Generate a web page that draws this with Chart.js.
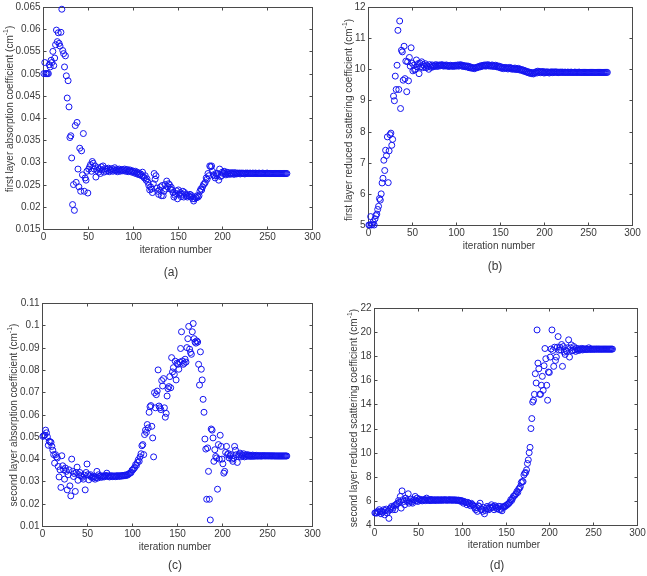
<!DOCTYPE html>
<html>
<head>
<meta charset="utf-8">
<script src="https://cdn.jsdelivr.net/npm/chart.js@4.4.1/dist/chart.umd.min.js"></script>
<style>
  html, body { margin: 0; padding: 0; background: #fff; }
  #page { position: relative; width: 647px; height: 576px; overflow: hidden; }
  #page canvas { position: absolute; left: 0; top: 0; }
</style>
</head>
<body>
<div id="page">
  <canvas id="chartA" width="647" height="576"></canvas>
  <canvas id="chartB" width="647" height="576"></canvas>
  <canvas id="chartC" width="647" height="576"></canvas>
  <canvas id="chartD" width="647" height="576"></canvas>
</div>
<script>
// x ticks shared by the four panels (iteration number)
const xTicks = [0, 50, 100, 150, 200, 250, 300];

// (a) first layer absorption coefficient, one value per iteration
const firstAbsorption = [
  0.0500, 0.0525, 0.0500, 0.0500, 0.0500, 0.0500, 0.0520, 0.0515, 0.0530, 0.0525,
  0.0550, 0.0518, 0.0535, 0.0565, 0.0598, 0.0572, 0.0592, 0.0568, 0.0562, 0.0593,
  0.0645, 0.0552, 0.0545, 0.0515, 0.0540, 0.0495, 0.0445, 0.0484, 0.0425, 0.0356,
  0.0360, 0.0310, 0.0205, 0.0250, 0.0192, 0.0383, 0.0255, 0.0390, 0.0285, 0.0245,
  0.0332, 0.0235, 0.0326, 0.0272, 0.0365, 0.0235, 0.0265, 0.0260, 0.0280, 0.0231,
  0.0285, 0.0290, 0.0295, 0.0280, 0.0302, 0.0298, 0.0285, 0.0292, 0.0267, 0.0282,
  0.0288, 0.0278, 0.0285, 0.0275, 0.0290, 0.0283, 0.0292, 0.0278, 0.0286, 0.0280,
  0.0285, 0.0281, 0.0287, 0.0279, 0.0284, 0.0282, 0.0286, 0.0280, 0.0283, 0.0288,
  0.0281, 0.0284, 0.0279, 0.0283, 0.0285, 0.0280, 0.0282, 0.0284, 0.0281, 0.0283,
  0.0285, 0.0280, 0.0282, 0.0284, 0.0279, 0.0281, 0.0283, 0.0280, 0.0278, 0.0281,
  0.0279, 0.0276, 0.0280, 0.0275, 0.0278, 0.0273, 0.0276, 0.0272, 0.0274, 0.0270,
  0.0278, 0.0268, 0.0265, 0.0270, 0.0260, 0.0263, 0.0255, 0.0248, 0.0238, 0.0245,
  0.0240, 0.0232, 0.0252, 0.0275, 0.0262, 0.0270, 0.0242, 0.0235, 0.0228, 0.0238,
  0.0245, 0.0225, 0.0248, 0.0225, 0.0235, 0.0250, 0.0240, 0.0258, 0.0245, 0.0252,
  0.0250, 0.0240, 0.0244, 0.0238, 0.0232, 0.0222, 0.0226, 0.0230, 0.0236, 0.0218,
  0.0238, 0.0228, 0.0232, 0.0223, 0.0228, 0.0235, 0.0222, 0.0232, 0.0228, 0.0225,
  0.0222, 0.0226, 0.0224, 0.0228, 0.0222, 0.0225, 0.0218, 0.0213, 0.0218, 0.0222,
  0.0220, 0.0225, 0.0222, 0.0225, 0.0235, 0.0240, 0.0238, 0.0245, 0.0250, 0.0252,
  0.0255, 0.0265, 0.0262, 0.0275, 0.0270, 0.0292, 0.0290, 0.0292, 0.0280, 0.0272,
  0.0270, 0.0265, 0.0275, 0.0270, 0.0275, 0.0260, 0.0285, 0.0268, 0.0270, 0.0278,
  0.0275, 0.0280, 0.0275, 0.0272, 0.0278, 0.0274, 0.0277, 0.0273, 0.0276, 0.0274,
  0.0277, 0.0275, 0.0273, 0.0277, 0.0275, 0.0274, 0.0276, 0.0275, 0.0276, 0.0274,
  0.0276, 0.0275, 0.0276, 0.0275, 0.0274, 0.0276, 0.0275, 0.0276, 0.0275, 0.0275,
  0.0276, 0.0275, 0.0275, 0.0276, 0.0275, 0.0275, 0.0276, 0.0275, 0.0275, 0.0275,
  0.0276, 0.0275, 0.0275, 0.0275, 0.0276, 0.0275, 0.0275, 0.0275, 0.0275, 0.0276,
  0.0275, 0.0275, 0.0275, 0.0275, 0.0275, 0.0275, 0.0275, 0.0275, 0.0275, 0.0275,
  0.0275, 0.0275, 0.0275, 0.0275, 0.0275, 0.0275, 0.0275, 0.0275, 0.0275, 0.0275,
  0.0275, 0.0275
];
const firstAbsorptionTicks = [0.015, 0.02, 0.025, 0.03, 0.035, 0.04, 0.045, 0.05, 0.055, 0.06, 0.065];

// (b) first layer reduced scattering coefficient
const firstScattering = [
  5.00, 5.00, 5.27, 5.00, 5.02, 5.10, 5.00, 5.20, 5.30, 5.35,
  5.50, 5.60, 5.85, 5.80, 6.00, 6.35, 6.50, 7.08, 6.75, 7.40,
  7.23, 7.83, 6.36, 7.38, 7.90, 7.95, 7.56, 7.75, 9.14, 8.99,
  9.78, 9.35, 10.13, 11.25, 9.35, 11.55, 8.74, 10.61, 10.56, 9.65,
  10.74, 9.70, 10.26, 9.28, 10.24, 9.63, 10.38, 10.10, 10.69, 10.20,
  9.95, 10.13, 9.98, 10.00, 10.30, 10.08, 10.18, 9.86, 10.20, 10.08,
  10.24, 10.05, 10.15, 10.10, 10.18, 10.05, 10.12, 10.08, 10.00, 10.15,
  10.10, 10.06, 10.14, 10.08, 10.12, 10.10, 10.15, 10.09, 10.13, 10.10,
  10.14, 10.11, 10.13, 10.15, 10.12, 10.10, 10.13, 10.11, 10.14, 10.10,
  10.12, 10.09, 10.11, 10.13, 10.10, 10.12, 10.09, 10.11, 10.13, 10.10,
  10.12, 10.14, 10.10, 10.12, 10.15, 10.11, 10.13, 10.09, 10.12, 10.10,
  10.08, 10.11, 10.07, 10.10, 10.05, 10.08, 10.04, 10.06, 10.03, 10.05,
  10.02, 10.04, 10.06, 10.05, 10.08, 10.07, 10.10, 10.08, 10.12, 10.10,
  10.13, 10.11, 10.14, 10.10, 10.12, 10.15, 10.11, 10.13, 10.10, 10.12,
  10.14, 10.09, 10.12, 10.10, 10.13, 10.08, 10.11, 10.07, 10.10, 10.05,
  10.08, 10.03, 10.06, 10.02, 10.05, 10.06, 10.03, 10.05, 10.01, 10.04,
  10.06, 10.02, 10.04, 10.00, 10.03, 10.01, 10.04, 9.99, 10.02, 10.00,
  10.03, 9.98, 10.00, 9.97, 9.99, 9.95, 9.97, 9.93, 9.95, 9.91,
  9.93, 9.89, 9.91, 9.87, 9.90, 9.86, 9.89, 9.85, 9.88, 9.90,
  9.92, 9.88, 9.94, 9.90, 9.93, 9.89, 9.92, 9.90, 9.93, 9.88,
  9.91, 9.89, 9.92, 9.90, 9.91, 9.88, 9.91, 9.90, 9.92, 9.89,
  9.91, 9.90, 9.92, 9.90, 9.91, 9.89, 9.91, 9.90, 9.91, 9.90,
  9.91, 9.90, 9.90, 9.91, 9.90, 9.90, 9.91, 9.90, 9.90, 9.90,
  9.91, 9.90, 9.90, 9.90, 9.91, 9.90, 9.90, 9.90, 9.90, 9.91,
  9.90, 9.90, 9.90, 9.90, 9.90, 9.90, 9.90, 9.90, 9.90, 9.90,
  9.90, 9.90, 9.90, 9.90, 9.90, 9.90, 9.90, 9.90, 9.90, 9.90,
  9.90, 9.90, 9.90, 9.90, 9.90, 9.90, 9.90, 9.90, 9.90, 9.90,
  9.90, 9.90
];
const firstScatteringTicks = [5, 6, 7, 8, 9, 10, 11, 12];

// (c) second layer absorption coefficient
const secondAbsorption = [
  0.0502, 0.0505, 0.0507, 0.0530, 0.0518, 0.0500, 0.0462, 0.0480, 0.0478, 0.0475,
  0.0457, 0.0440, 0.0420, 0.0382, 0.0420, 0.0410, 0.0405, 0.0367, 0.0320, 0.0352,
  0.0273, 0.0415, 0.0370, 0.0352, 0.0310, 0.0360, 0.0345, 0.0262, 0.0330, 0.0352,
  0.0280, 0.0235, 0.0400, 0.0345, 0.0322, 0.0335, 0.0255, 0.0340, 0.0364, 0.0305,
  0.0330, 0.0340, 0.0325, 0.0322, 0.0318, 0.0310, 0.0328, 0.0262, 0.0340, 0.0378,
  0.0330, 0.0307, 0.0325, 0.0330, 0.0318, 0.0320, 0.0315, 0.0322, 0.0310, 0.0318,
  0.0345, 0.0315, 0.0330, 0.0322, 0.0325, 0.0318, 0.0322, 0.0325, 0.0320, 0.0323,
  0.0327, 0.0337, 0.0322, 0.0325, 0.0320, 0.0323, 0.0326, 0.0321, 0.0324, 0.0322,
  0.0325, 0.0321, 0.0324, 0.0326, 0.0322, 0.0325, 0.0323, 0.0326, 0.0324, 0.0327,
  0.0325, 0.0328, 0.0326, 0.0330, 0.0328, 0.0332, 0.0335, 0.0338, 0.0340, 0.0350,
  0.0352, 0.0358, 0.0362, 0.0375, 0.0372, 0.0385, 0.0397, 0.0390, 0.0410, 0.0424,
  0.0460, 0.0465, 0.0420, 0.0510, 0.0530, 0.0520, 0.0555, 0.0540, 0.0610, 0.0635,
  0.0640, 0.0547, 0.0495, 0.0410, 0.0698, 0.0630, 0.0689, 0.0705, 0.0800, 0.0638,
  0.0630, 0.0622, 0.0752, 0.0728, 0.0761, 0.0630, 0.0588, 0.0605, 0.0683, 0.0716,
  0.0725, 0.0770, 0.0720, 0.0855, 0.0791, 0.0810, 0.0780, 0.0839, 0.0755, 0.0830,
  0.0825, 0.0803, 0.0835, 0.0896, 0.0971, 0.0840, 0.0825, 0.0830, 0.0848, 0.0835,
  0.0900, 0.0940, 0.0995, 0.0893, 0.0878, 0.0870, 0.0971, 0.1008, 0.0940, 0.0925,
  0.0920, 0.0930, 0.0925, 0.0825, 0.0732, 0.0881, 0.0803, 0.0755, 0.0668, 0.0610,
  0.0490, 0.0445, 0.0220, 0.0450, 0.0345, 0.0220, 0.0127, 0.0535, 0.0530, 0.0495,
  0.0390, 0.0442, 0.0412, 0.0405, 0.0265, 0.0465, 0.0400, 0.0507, 0.0457, 0.0400,
  0.0379, 0.0337, 0.0345, 0.0430, 0.0457, 0.0420, 0.0425, 0.0405, 0.0415, 0.0420,
  0.0400, 0.0390, 0.0405, 0.0457, 0.0440, 0.0420, 0.0385, 0.0412, 0.0420, 0.0427,
  0.0410, 0.0420, 0.0415, 0.0424, 0.0410, 0.0418, 0.0412, 0.0420, 0.0414, 0.0418,
  0.0412, 0.0417, 0.0413, 0.0418, 0.0412, 0.0416, 0.0414, 0.0417, 0.0413, 0.0415,
  0.0414, 0.0416, 0.0413, 0.0415, 0.0414, 0.0416, 0.0414, 0.0415, 0.0414, 0.0415,
  0.0414, 0.0415, 0.0414, 0.0415, 0.0414, 0.0414, 0.0415, 0.0414, 0.0414, 0.0414,
  0.0414, 0.0414, 0.0414, 0.0414, 0.0414, 0.0414, 0.0414, 0.0414, 0.0414, 0.0414,
  0.0414, 0.0414
];
const secondAbsorptionTicks = [0.01, 0.02, 0.03, 0.04, 0.05, 0.06, 0.07, 0.08, 0.09, 0.1, 0.11];

// (d) second layer reduced scattering coefficient
const secondScattering = [
  5.00, 5.02, 4.98, 5.13, 5.05, 5.27, 5.10, 4.93, 5.13, 5.05,
  5.27, 4.85, 5.20, 5.32, 5.00, 5.15, 4.55, 5.27, 5.40, 5.54,
  5.27, 5.45, 5.60, 5.27, 5.68, 5.75, 5.80, 6.03, 5.90, 6.37,
  5.40, 6.83, 6.10, 5.95, 5.68, 6.23, 6.05, 5.95, 6.59, 5.81,
  6.00, 6.15, 5.90, 5.81, 6.05, 6.10, 6.37, 6.00, 6.23, 5.95,
  6.10, 6.15, 6.03, 6.08, 6.00, 6.10, 6.05, 6.12, 6.02, 6.23,
  6.08, 6.05, 6.10, 6.02, 6.12, 6.06, 6.04, 6.10, 6.05, 6.08,
  6.03, 6.10, 6.06, 6.08, 6.04, 6.10, 6.07, 6.05, 6.09, 6.06,
  6.10, 6.07, 6.05, 6.09, 6.06, 6.08, 6.10, 6.05, 6.08, 6.06,
  6.09, 6.05, 6.08, 6.06, 6.04, 6.07, 6.03, 6.05, 5.95, 6.02,
  5.98, 5.81, 5.95, 5.90, 5.85, 5.68, 5.88, 5.80, 5.75, 5.60,
  5.80, 5.70, 5.65, 5.55, 5.40, 5.27, 5.45, 5.13, 5.60, 5.54,
  5.81, 5.30, 5.27, 5.13, 5.45, 4.93, 5.20, 5.40, 5.54, 5.35,
  5.27, 5.50, 5.40, 5.68, 5.45, 5.54, 5.27, 5.60, 5.49, 5.35,
  5.40, 5.55, 5.27, 5.54, 5.30, 5.18, 5.45, 5.54, 5.50, 5.60,
  5.62, 5.68, 5.75, 5.81, 5.90, 6.10, 6.03, 6.20, 6.37, 6.42,
  6.50, 6.59, 6.78, 6.70, 6.97, 7.05, 7.19, 7.52, 7.60, 7.60,
  8.15, 8.30, 8.35, 8.57, 9.10, 9.40, 10.00, 10.44, 12.00, 12.83,
  14.20, 14.35, 14.84, 16.55, 15.78, 20.18, 17.43, 16.96, 14.84, 14.84,
  15.59, 16.33, 15.17, 17.21, 18.64, 17.79, 15.59, 14.35, 16.69, 16.65,
  17.93, 18.60, 20.18, 18.48, 17.16, 18.75, 17.65, 17.93, 18.75, 19.63,
  18.50, 18.75, 18.53, 18.97, 17.16, 18.80, 18.34, 18.15, 18.48, 18.40,
  18.70, 19.36, 17.93, 18.70, 18.94, 18.45, 18.48, 18.80, 18.53, 18.40,
  18.65, 18.50, 18.62, 18.48, 18.60, 18.55, 18.65, 18.52, 18.60, 18.56,
  18.62, 18.55, 18.60, 18.57, 18.70, 18.56, 18.60, 18.58, 18.60, 18.57,
  18.60, 18.58, 18.59, 18.60, 18.58, 18.59, 18.60, 18.58, 18.59, 18.59,
  18.59, 18.59, 18.59, 18.59, 18.59, 18.59, 18.59, 18.59, 18.59, 18.59,
  18.59, 18.59
];
const secondScatteringTicks = [4, 6, 8, 10, 12, 14, 16, 18, 20, 22];

const TEXT_COLOR = '#3a3a3a';
const AXIS_COLOR = '#4a4a4a';
const MARKER_COLOR = '#1414f0';
const FONT = '10px "Liberation Sans", Arial, sans-serif';
const SUP_FONT = '7px "Liberation Sans", Arial, sans-serif';
const LABEL_FONT = '12px "Liberation Sans", Arial, sans-serif';
const TICK_LEN = 3;

function fmt(v) {
  return String(parseFloat(v.toFixed(4)));
}

// y axis title with a raised "-1" for cm^-1
function drawYTitle(ctx, text, cx, cy) {
  ctx.save();
  ctx.translate(cx, cy);
  ctx.rotate(-Math.PI / 2);
  ctx.textAlign = 'left';
  ctx.textBaseline = 'middle';
  ctx.font = FONT;
  const main = text + ' (cm';
  const w1 = ctx.measureText(main).width;
  const w3 = ctx.measureText(')').width;
  ctx.font = SUP_FONT;
  const w2 = ctx.measureText('-1').width;
  let x = -(w1 + w2 + w3) / 2;
  ctx.font = FONT;
  ctx.fillText(main, x, 0);
  x += w1;
  ctx.font = SUP_FONT;
  ctx.fillText('-1', x, -4);
  x += w2;
  ctx.font = FONT;
  ctx.fillText(')', x, 0);
  ctx.restore();
}

// matlab-like box axes: ticks pointing in on all four sides
const boxAxes = {
  id: 'boxAxes',
  beforeDatasetsDraw(chart, args, opts) {
    const { ctx, chartArea: ca, scales: { x, y } } = chart;
    const l = Math.round(ca.left) + 0.5, r = Math.round(ca.right) + 0.5;
    const t = Math.round(ca.top) + 0.5, b = Math.round(ca.bottom) + 0.5;
    ctx.save();
    ctx.strokeStyle = AXIS_COLOR;
    ctx.lineWidth = 1;
    ctx.strokeRect(l, t, r - l, b - t);
    ctx.fillStyle = TEXT_COLOR;
    ctx.font = FONT;

    ctx.textAlign = 'center';
    ctx.textBaseline = 'middle';
    x.ticks.forEach(tk => {
      const px = Math.round(x.getPixelForValue(tk.value)) + 0.5;
      ctx.beginPath();
      ctx.moveTo(px, b); ctx.lineTo(px, b - TICK_LEN);
      ctx.moveTo(px, t); ctx.lineTo(px, t + TICK_LEN);
      ctx.stroke();
      ctx.fillText(fmt(tk.value), px, b + 8);
    });

    ctx.textAlign = 'right';
    y.ticks.forEach(tk => {
      const py = Math.round(y.getPixelForValue(tk.value)) + 0.5;
      ctx.beginPath();
      ctx.moveTo(l, py); ctx.lineTo(l + TICK_LEN, py);
      ctx.moveTo(r, py); ctx.lineTo(r - TICK_LEN, py);
      ctx.stroke();
      ctx.fillText(fmt(tk.value), l - 3, py);
    });

    ctx.textAlign = 'center';
    ctx.fillText('iteration number', opts.xTitleX, opts.xTitleY);
    ctx.font = LABEL_FONT;
    ctx.fillText(opts.label, opts.labelX, opts.labelY);
    drawYTitle(ctx, opts.yTitle, opts.yTitleX, opts.yTitleY);
    ctx.restore();
  }
};

function makePanel(canvasId, values, yTicks, pad, deco) {
  const points = values.map((v, i) => ({ x: i + 1, y: v }));
  return new Chart(document.getElementById(canvasId), {
    type: 'scatter',
    data: {
      datasets: [{
        data: points,
        pointStyle: 'circle',
        pointRadius: 3,
        pointBorderWidth: 1,
        pointBorderColor: MARKER_COLOR,
        pointBackgroundColor: 'rgba(0,0,0,0)',
        showLine: false,
        clip: false
      }]
    },
    options: {
      responsive: false,
      animation: false,
      events: [],
      layout: { padding: pad },
      plugins: {
        legend: { display: false },
        tooltip: { enabled: false },
        boxAxes: deco
      },
      scales: {
        x: {
          type: 'linear', display: false, min: 0, max: 300,
          afterBuildTicks: s => { s.ticks = xTicks.map(v => ({ value: v })); }
        },
        y: {
          type: 'linear', display: false, min: yTicks[0], max: yTicks[yTicks.length - 1],
          afterBuildTicks: s => { s.ticks = yTicks.map(v => ({ value: v })); }
        }
      }
    },
    plugins: [boxAxes]
  });
}

makePanel('chartA', firstAbsorption, firstAbsorptionTicks,
  { left: 43, top: 7, right: 335, bottom: 347 },
  { yTitle: 'first layer absorption coefficient', yTitleX: 10, yTitleY: 109,
    xTitleX: 176, xTitleY: 250, label: '(a)', labelX: 171, labelY: 273 });

makePanel('chartB', firstScattering, firstScatteringTicks,
  { left: 368, top: 7, right: 15, bottom: 351 },
  { yTitle: 'first layer reduced scattering coefficient', yTitleX: 349, yTitleY: 120,
    xTitleX: 499, xTitleY: 246, label: '(b)', labelX: 495, labelY: 267 });

makePanel('chartC', secondAbsorption, secondAbsorptionTicks,
  { left: 42, top: 303, right: 335, bottom: 50 },
  { yTitle: 'second layer absorption coefficient', yTitleX: 14, yTitleY: 415,
    xTitleX: 175, xTitleY: 547, label: '(c)', labelX: 175, labelY: 566 });

makePanel('chartD', secondScattering, secondScatteringTicks,
  { left: 374, top: 308, right: 10, bottom: 51 },
  { yTitle: 'second layer reduced scattering coefficient', yTitleX: 354, yTitleY: 418,
    xTitleX: 504, xTitleY: 545, label: '(d)', labelX: 497, labelY: 566 });
</script>
</body>
</html>
